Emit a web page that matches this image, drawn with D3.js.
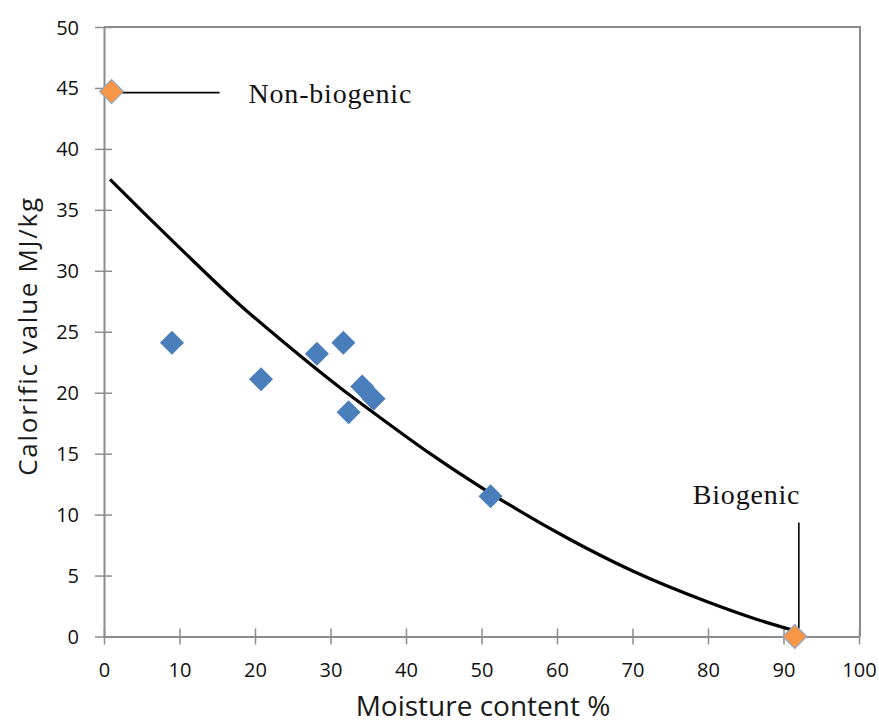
<!DOCTYPE html>
<html>
<head>
<meta charset="utf-8">
<script src="https://cdn.jsdelivr.net/npm/d3@7"></script>
<style>
  body { margin: 0; background: #fff; }
  svg { display: block; }
</style>
</head>
<body>
<svg id="chart" width="879" height="725"></svg>
<script>
// measured samples (blue diamonds)
var moisture  = [9.0, 20.8, 28.2, 31.7, 32.4, 34.2, 35.7, 51.2];
var calorific = [24.1, 21.1, 23.2, 24.1, 18.4, 20.5, 19.5, 11.5];

// reference fuels (orange diamonds)
var refNames     = ["Non-biogenic", "Biogenic"];
var refMoisture  = [1.0, 91.5];
var refCalorific = [44.7, 0.0];

// trend line
var trendX = [0.8, 5.2, 10.5, 18.0, 23.3, 31.7, 36.6, 43.2, 51.2, 61.3, 70.1, 79.9, 86.5, 91.3];
var trendY = [37.5, 34.8, 31.6, 27.2, 24.4, 20.2, 17.95, 15.0, 11.75, 8.1, 5.35, 2.85, 1.4, 0.5];

var xTicks = [0, 10, 20, 30, 40, 50, 60, 70, 80, 90, 100];
var yTicks = [0, 5, 10, 15, 20, 25, 30, 35, 40, 45, 50];

var svg = d3.select("#chart");
var plotL = 104, plotR = 859, plotT = 27, plotB = 636.5;
var axisCol = "#8c8c8c";
var tickFont = "'Open Sans', sans-serif";

var x = d3.scaleLinear().domain([0, 100]).range([plotL, plotR]);
var y = d3.scaleLinear().domain([0, 50]).range([plotB, plotT]);

//plot area border (top and right)
svg.append("path")
    .attr("d", "M" + plotL + "," + plotT + "H" + (plotR + 1) + "V" + plotB)
    .attr("fill", "none")
    .attr("stroke", axisCol)
    .attr("stroke-width", 2);

//x axis
var gx = svg.append("g")
    .attr("transform", "translate(0," + plotB + ")")
    .call(d3.axisBottom(x).tickValues(xTicks).tickSize(8).tickSizeOuter(0).tickFormat(d3.format("d")));
gx.select(".domain").attr("stroke", axisCol).attr("stroke-width", 2);
gx.selectAll(".tick line").attr("y1", -8).attr("y2", 8).attr("stroke", axisCol).attr("stroke-width", 1.5);
gx.selectAll(".tick text")
    .attr("y", 40).attr("dy", 0)
    .style("font-family", tickFont).style("font-size", "20px").attr("fill", "#111");

//y axis
var gy = svg.append("g")
    .attr("transform", "translate(" + plotL + ",0)")
    .call(d3.axisLeft(y).tickValues(yTicks).tickSize(8).tickSizeOuter(0).tickFormat(d3.format("d")));
gy.select(".domain").attr("stroke", axisCol).attr("stroke-width", 2);
gy.selectAll(".tick line").attr("x1", -9).attr("x2", 8).attr("stroke", axisCol).attr("stroke-width", 1.5);
gy.selectAll(".tick text")
    .attr("x", -25).attr("dy", "0.35em")
    .style("font-family", tickFont).style("font-size", "20px").attr("fill", "#111");

//axis titles
svg.append("text")
    .attr("x", 483).attr("y", 716)
    .attr("text-anchor", "middle")
    .style("font-family", tickFont).style("font-size", "28px")
    .attr("fill", "#1a1a1a")
    .text("Moisture content %");

svg.append("text")
    .attr("transform", "translate(37,336) rotate(-90)")
    .attr("text-anchor", "middle")
    .style("font-family", tickFont).style("font-size", "26px")
    .style("letter-spacing", "1.7px")
    .attr("fill", "#1a1a1a")
    .text("Calorific value MJ/kg");

//trend line
var line = d3.line()
    .x(function(d){ return x(d[0]); })
    .y(function(d){ return y(d[1]); })
    .curve(d3.curveMonotoneX);
svg.append("path")
    .datum(d3.zip(trendX, trendY))
    .attr("d", line)
    .attr("fill", "none")
    .attr("stroke", "#000")
    .attr("stroke-width", 3.2);

//diamonds
var diamond = d3.symbol().type(d3.symbolSquare).size(290);

svg.append("g").selectAll("path")
    .data(d3.zip(moisture, calorific))
    .join("path")
    .attr("d", diamond)
    .attr("transform", function(d){ return "translate(" + x(d[0]) + "," + y(d[1]) + ") rotate(45)"; })
    .attr("fill", "#4a7ebb");

//annotation leaders
var p0 = [x(refMoisture[0]), y(refCalorific[0])];
var p1 = [x(refMoisture[1]), y(refCalorific[1])];

svg.append("line")
    .attr("x1", p0[0]).attr("x2", p0[0] + 108)
    .attr("y1", p0[1] + 1).attr("y2", p0[1] + 1)
    .attr("stroke", "#000").attr("stroke-width", 1.6);
svg.append("line")
    .attr("x1", p1[0] + 4).attr("x2", p1[0] + 4)
    .attr("y1", p1[1] - 4).attr("y2", p1[1] - 114)
    .attr("stroke", "#000").attr("stroke-width", 1.6);

svg.append("g").selectAll("path")
    .data(d3.zip(refMoisture, refCalorific))
    .join("path")
    .attr("d", diamond)
    .attr("transform", function(d){ return "translate(" + x(d[0]) + "," + y(d[1]) + ") rotate(45)"; })
    .attr("fill", "#f79646")
    .attr("stroke", "#7ea6d8")
    .attr("stroke-width", 1);

var serif = "'Liberation Serif', 'Times New Roman', serif";
svg.append("text")
    .attr("x", p0[0] + 137).attr("y", p0[1] + 11)
    .style("font-family", serif).style("font-size", "28px").style("letter-spacing", "0.8px")
    .attr("fill", "#111")
    .text(refNames[0]);
svg.append("text")
    .attr("x", p1[0] - 102).attr("y", p1[1] - 133)
    .style("font-family", serif).style("font-size", "28px").style("letter-spacing", "0.8px")
    .attr("fill", "#111")
    .text(refNames[1]);
</script>
</body>
</html>
